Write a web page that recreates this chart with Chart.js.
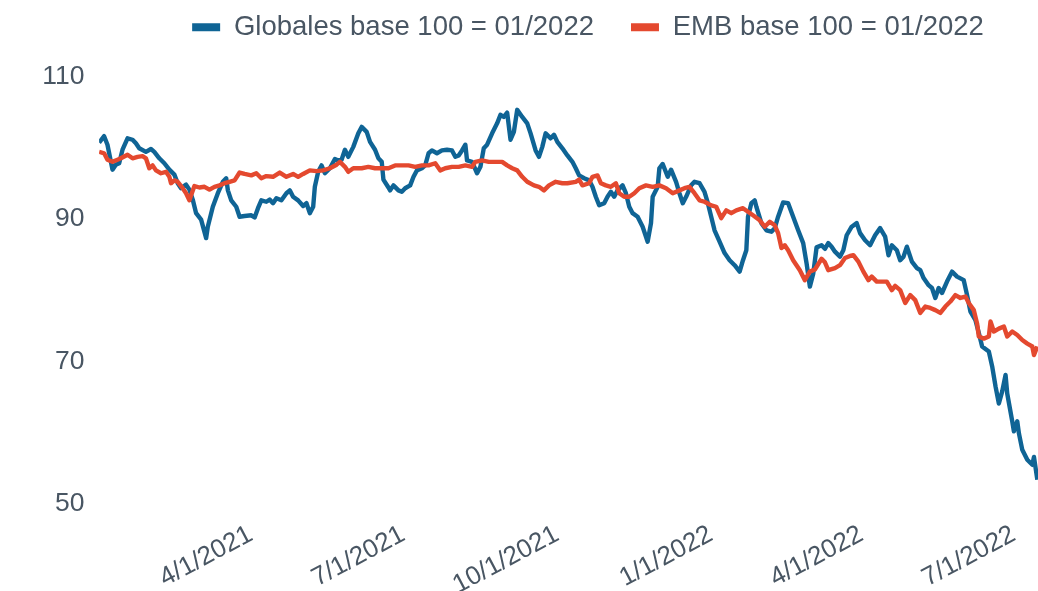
<!DOCTYPE html>
<html>
<head>
<meta charset="utf-8">
<script src="https://cdn.jsdelivr.net/npm/chart.js@4.4.1/dist/chart.umd.min.js"></script>
<style>
html,body{margin:0;padding:0;overflow:hidden;background:#fff;width:1038px;height:591px}
#wrap{width:1038px;height:591px;overflow:hidden;position:relative}
canvas{display:block;position:absolute;left:0;top:0}
</style>
</head>
<body>
<div id="wrap"><canvas id="c" width="1136" height="591"></canvas></div>
<script>
const seriesNames = ['Globales base 100 = 01/2022', 'EMB base 100 = 01/2022'];

const blueDates = [
'2020-12-27','2020-12-30','2021-01-01','2021-01-04','2021-01-06','2021-01-08','2021-01-10','2021-01-13','2021-01-16','2021-01-18',
'2021-01-20','2021-01-24','2021-01-27','2021-01-29','2021-02-01','2021-02-04','2021-02-07','2021-02-10','2021-02-12','2021-02-14',
'2021-02-17','2021-02-19','2021-02-21','2021-02-23','2021-02-26','2021-03-01','2021-03-02','2021-03-05','2021-03-08','2021-03-11',
'2021-03-13','2021-03-14','2021-03-16','2021-03-19','2021-03-21','2021-03-24','2021-03-28','2021-03-30','2021-04-01','2021-04-03',
'2021-04-06','2021-04-08','2021-04-10','2021-04-12','2021-04-15','2021-04-18','2021-04-20','2021-04-22','2021-04-25','2021-04-28',
'2021-04-30','2021-05-02','2021-05-04','2021-05-05','2021-05-07','2021-05-09','2021-05-11','2021-05-14','2021-05-17','2021-05-19',
'2021-05-21','2021-05-23','2021-05-25','2021-05-28','2021-05-31','2021-06-02','2021-06-05','2021-06-07','2021-06-10','2021-06-12',
'2021-06-14','2021-06-15','2021-06-18','2021-06-19','2021-06-21','2021-06-24','2021-06-26','2021-06-28','2021-07-01','2021-07-03',
'2021-07-05','2021-07-08','2021-07-10','2021-07-12','2021-07-14','2021-07-17','2021-07-20','2021-07-23','2021-07-26','2021-07-28',
'2021-07-30','2021-08-01','2021-08-03','2021-08-04','2021-08-07','2021-08-10','2021-08-12','2021-08-14','2021-08-16','2021-08-19',
'2021-08-22','2021-08-24','2021-08-26','2021-08-28','2021-08-30','2021-09-01','2021-09-03','2021-09-06','2021-09-09','2021-09-11',
'2021-09-14','2021-09-16','2021-09-18','2021-09-20','2021-09-23','2021-09-25','2021-09-27','2021-09-30','2021-10-03','2021-10-06',
'2021-10-08','2021-10-10','2021-10-13','2021-10-16','2021-10-18','2021-10-20','2021-10-22','2021-10-25','2021-10-27','2021-10-29',
'2021-10-31','2021-11-02','2021-11-05','2021-11-07','2021-11-09','2021-11-11','2021-11-14','2021-11-17','2021-11-20','2021-11-22',
'2021-11-23','2021-11-26','2021-11-27','2021-11-29','2021-12-02','2021-12-04','2021-12-07','2021-12-09','2021-12-11','2021-12-13',
'2021-12-16','2021-12-18','2021-12-21','2021-12-24','2021-12-26','2021-12-28','2021-12-30','2022-01-02','2022-01-05','2022-01-08',
'2022-01-11','2022-01-14','2022-01-16','2022-01-18','2022-01-19','2022-01-21','2022-01-23','2022-01-24','2022-01-27','2022-01-30',
'2022-02-02','2022-02-04','2022-02-06','2022-02-09','2022-02-12','2022-02-15','2022-02-18','2022-02-21','2022-02-23','2022-02-25',
'2022-02-27','2022-03-01','2022-03-04','2022-03-06','2022-03-08','2022-03-10','2022-03-12','2022-03-15','2022-03-17','2022-03-19',
'2022-03-22','2022-03-25','2022-03-27','2022-03-30','2022-04-02','2022-04-05','2022-04-08','2022-04-11','2022-04-13','2022-04-15',
'2022-04-18','2022-04-20','2022-04-22','2022-04-24','2022-04-27','2022-04-30','2022-05-02','2022-05-04','2022-05-07','2022-05-09',
'2022-05-11','2022-05-13','2022-05-15','2022-05-18','2022-05-21','2022-05-24','2022-05-28','2022-05-30','2022-06-01','2022-06-04',
'2022-06-06','2022-06-08','2022-06-12','2022-06-14','2022-06-16','2022-06-18','2022-06-20','2022-06-22','2022-06-23','2022-06-26',
'2022-06-27','2022-06-29','2022-06-30','2022-07-02','2022-07-05','2022-07-08','2022-07-09','2022-07-11'
];
const blueValues = [
100.7,101.6,100.4,96.9,97.6,97.8,99.7,101.3,101.1,100.6,
99.9,99.4,99.8,99.4,98.5,97.8,96.9,96.2,95.0,94.3,
94.8,94.1,92.7,90.8,89.9,87.3,88.9,91.7,93.6,95.2,
95.7,94.0,92.6,91.7,90.3,90.4,90.5,90.2,91.5,92.6,
92.4,92.7,92.2,92.9,92.6,93.6,94.0,93.1,92.6,91.8,
92.2,90.8,91.7,94.5,96.6,97.5,96.4,97.1,98.4,98.2,
98.3,99.7,98.7,100.1,102.0,102.9,102.2,100.8,99.7,98.5,
98.0,95.5,94.4,94.0,94.7,94.0,93.8,94.3,94.7,95.9,
96.8,97.1,97.5,99.2,99.6,99.2,99.6,99.7,99.6,98.7,
98.9,99.6,100.4,98.2,98.0,96.4,97.3,99.9,100.4,102.0,
103.4,104.6,104.3,104.9,101.1,102.2,105.3,104.3,103.4,102.0,
99.6,98.7,100.1,102.0,101.3,101.8,100.8,99.9,98.9,98.0,
97.1,96.1,95.7,95.4,94.5,93.1,91.9,92.2,93.1,93.8,
93.1,94.0,94.7,93.6,91.7,90.8,90.3,88.9,86.8,89.4,
93.1,94.5,97.1,97.7,95.9,96.9,95.2,93.6,92.2,93.1,
94.7,95.2,95.0,93.8,92.2,90.3,88.4,86.8,85.2,84.2,
83.5,82.6,84.2,85.6,90.3,92.2,92.6,91.7,89.4,88.4,
88.2,88.7,90.3,92.3,92.2,90.3,88.4,86.6,83.8,80.5,
82.3,86.0,86.3,85.8,86.6,86.1,85.4,84.7,85.6,87.7,
88.9,89.4,88.0,87.0,86.3,87.7,88.7,87.5,84.9,86.3,
85.6,84.2,84.7,86.1,84.0,83.1,82.8,81.7,80.7,80.3,
78.9,80.3,79.6,81.2,82.6,81.9,81.4,79.3,77.0,75.8,
74.0,72.1,71.4,69.3,66.5,64.1,65.8,68.1,65.5,61.6,
60.2,61.6,59.9,57.6,56.2,55.5,56.6,53.4
];

const redDates = [
'2020-12-27','2020-12-30','2021-01-01','2021-01-04','2021-01-07','2021-01-09','2021-01-13','2021-01-16','2021-01-19','2021-01-22',
'2021-01-24','2021-01-26','2021-01-28','2021-01-30','2021-02-02','2021-02-05','2021-02-07','2021-02-08','2021-02-10','2021-02-12',
'2021-02-15','2021-02-17','2021-02-19','2021-02-20','2021-02-22','2021-02-25','2021-02-28','2021-03-03','2021-03-06','2021-03-09',
'2021-03-12','2021-03-15','2021-03-18','2021-03-21','2021-03-24','2021-03-28','2021-03-31','2021-04-03','2021-04-06','2021-04-10',
'2021-04-14','2021-04-18','2021-04-22','2021-04-25','2021-04-28','2021-05-02','2021-05-06','2021-05-10','2021-05-14','2021-05-18',
'2021-05-20','2021-05-23','2021-05-25','2021-05-28','2021-06-02','2021-06-06','2021-06-10','2021-06-14','2021-06-18','2021-06-22',
'2021-06-26','2021-06-30','2021-07-04','2021-07-08','2021-07-12','2021-07-16','2021-07-19','2021-07-22','2021-07-26','2021-07-30',
'2021-08-03','2021-08-07','2021-08-09','2021-08-13','2021-08-17','2021-08-21','2021-08-25','2021-08-28','2021-08-31','2021-09-03',
'2021-09-06','2021-09-09','2021-09-13','2021-09-16','2021-09-19','2021-09-22','2021-09-26','2021-09-30','2021-10-03','2021-10-08',
'2021-10-10','2021-10-12','2021-10-16','2021-10-18','2021-10-21','2021-10-23','2021-10-26','2021-10-29','2021-11-01','2021-11-03',
'2021-11-06','2021-11-09','2021-11-12','2021-11-15','2021-11-19','2021-11-23','2021-11-27','2021-12-01','2021-12-05','2021-12-09',
'2021-12-12','2021-12-15','2021-12-18','2021-12-21','2021-12-24','2021-12-28','2021-12-31','2022-01-03','2022-01-06','2022-01-09',
'2022-01-12','2022-01-16','2022-01-19','2022-01-22','2022-01-26','2022-01-29','2022-02-01','2022-02-04','2022-02-06','2022-02-08',
'2022-02-10','2022-02-12','2022-02-15','2022-02-19','2022-02-22','2022-02-25','2022-02-28','2022-03-04','2022-03-06','2022-03-08',
'2022-03-12','2022-03-15','2022-03-18','2022-03-21','2022-03-23','2022-03-26','2022-03-29','2022-04-01','2022-04-03','2022-04-06',
'2022-04-09','2022-04-12','2022-04-15','2022-04-17','2022-04-20','2022-04-23','2022-04-26','2022-04-29','2022-05-02','2022-05-05',
'2022-05-08','2022-05-11','2022-05-14','2022-05-17','2022-05-20','2022-05-23','2022-05-26','2022-05-29','2022-05-31','2022-06-03',
'2022-06-05','2022-06-06','2022-06-09','2022-06-12','2022-06-13','2022-06-15','2022-06-18','2022-06-21','2022-06-23','2022-06-26',
'2022-06-29','2022-07-02','2022-07-05','2022-07-08','2022-07-09','2022-07-11'
];
const redValues = [
99.4,99.2,98.3,98.0,98.3,98.5,99.0,98.5,98.7,98.8,
98.5,97.1,97.5,96.8,96.4,96.6,95.9,95.0,95.4,95.2,
94.3,93.6,92.6,93.3,94.6,94.4,94.5,94.1,94.5,94.7,
95.0,95.2,95.4,96.5,96.3,96.1,96.4,95.7,96.0,95.9,
96.5,95.9,96.3,95.9,96.3,96.8,96.7,96.8,97.1,97.6,
98.0,97.3,96.6,97.1,97.1,97.3,97.1,97.1,97.1,97.5,
97.5,97.5,97.3,97.5,97.5,97.8,96.8,97.1,97.3,97.3,
97.5,97.3,98.0,98.2,98.0,98.0,98.0,97.5,97.1,96.8,
95.9,95.2,94.7,94.5,94.0,94.7,95.2,95.0,95.0,95.2,
95.5,94.7,95.0,95.9,96.1,95.0,94.7,94.5,95.0,93.6,
93.1,93.1,93.6,94.3,94.7,94.5,94.7,94.3,93.6,94.0,
94.3,94.5,93.6,92.6,92.4,91.9,91.7,90.1,91.2,90.8,
91.2,91.5,91.0,90.5,89.8,88.9,89.6,89.1,88.0,85.9,
86.3,85.6,84.2,82.8,81.4,82.6,82.9,84.4,83.9,82.8,
83.1,83.5,84.5,84.8,84.9,84.0,82.6,81.4,81.9,81.2,
81.2,81.2,80.0,80.6,80.0,78.2,79.3,78.6,76.8,77.7,
77.5,77.2,76.8,77.7,78.4,79.3,78.9,79.1,78.2,77.2,
75.3,73.5,73.2,73.5,75.6,74.2,74.6,74.9,73.5,74.2,
73.7,73.0,72.5,72.1,70.9,72.1
];

const tickDates = ['2021-04-01','2021-07-01','2021-10-01','2022-01-01','2022-04-01','2022-07-01'];
const tickLabels = ['4/1/2021','7/1/2021','10/1/2021','1/1/2022','4/1/2022','7/1/2022'];
const axisStart = '2020-12-27';
const axisEnd = '2022-09-08';
const yTicks = [50, 70, 90, 110];

const BLUE = '#0f6495';
const RED = '#e4492f';
const TEXT = '#495663';

const DAY = 86400000, ORIGIN = Date.UTC(2021, 0, 1);
function dayNum(s) { const [y, m, d] = s.split('-').map(Number); return (Date.UTC(y, m - 1, d) - ORIGIN) / DAY; }
const toPoints = (dates, vals) => dates.map((d, i) => ({ x: dayNum(d), y: vals[i] }));
const tickDays = tickDates.map(dayNum);

Chart.defaults.font.family = "'Liberation Sans', Arial, sans-serif";
Chart.defaults.font.size = 27.5;
Chart.defaults.color = TEXT;

const baseLabels = Chart.defaults.plugins.legend.labels.generateLabels;

new Chart(document.getElementById('c'), {
  type: 'line',
  data: {
    datasets: [
      { label: seriesNames[0], data: toPoints(blueDates, blueValues), borderColor: BLUE, backgroundColor: BLUE,
        borderWidth: 4.4, pointRadius: 0, tension: 0, order: 1, borderJoinStyle: 'round' },
      { label: seriesNames[1], data: toPoints(redDates, redValues), borderColor: RED, backgroundColor: RED,
        borderWidth: 4.4, pointRadius: 0, tension: 0, order: 0, borderJoinStyle: 'round' }
    ]
  },
  options: {
    responsive: false,
    animation: false,
    layout: { padding: { top: -23.5, left: 40, right: 0, bottom: 0 } },
    plugins: {
      legend: {
        position: 'top', align: 'center', weight: 1000,
        labels: {
          boxWidth: 28, boxHeight: 8, padding: 37, color: TEXT,
          font: { size: 27.5 },
          sort: (a, b) => a.datasetIndex - b.datasetIndex,
          generateLabels: (chart) => baseLabels(chart).map(l => Object.assign(l, { lineWidth: 0 }))
        }
      },
      subtitle: {
        display: true, text: '', position: 'top', weight: 500,
        font: { size: 10, lineHeight: 1 }, padding: { top: 7.65, bottom: 7.65 }
      },
      tooltip: { enabled: false }
    },
    scales: {
      x: {
        type: 'linear', min: dayNum(axisStart), max: dayNum(axisEnd),
        grid: { display: false, drawTicks: false }, border: { display: false },
        afterBuildTicks: (s) => { s.ticks = tickDays.map(v => ({ value: v })); },
        ticks: { autoSkip: false, maxRotation: 28, minRotation: 28, padding: 15, labelOffset: -7, color: TEXT,
                 font: { size: 26 },
                 callback: (v, i) => tickLabels[i] },
        afterFit: (s) => { s.height = 87; s.paddingLeft = 0; s.paddingRight = 0; }
      },
      y: {
        min: 50, max: 110,
        grid: { display: false, drawTicks: false }, border: { display: false },
        afterBuildTicks: (s) => { s.ticks = yTicks.map(v => ({ value: v })); },
        ticks: { padding: 14.6, color: TEXT, font: { size: 26.5 } },
        afterFit: (s) => { s.width = 59.1; }
      }
    }
  }
});
</script>
</body>
</html>
